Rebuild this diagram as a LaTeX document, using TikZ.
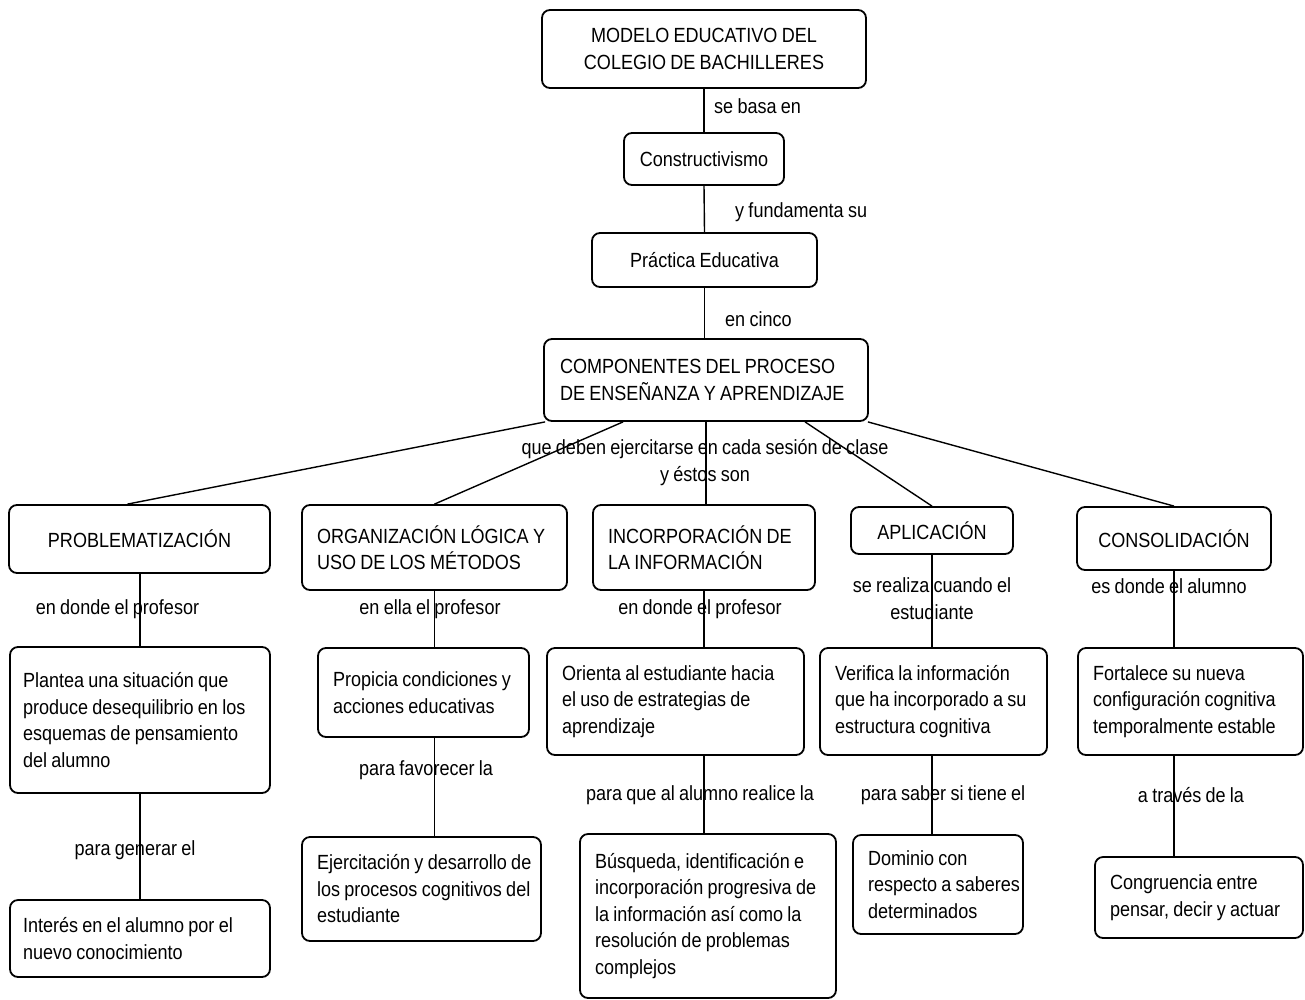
\documentclass[tikz,border=0pt]{standalone}
\usepackage{fontspec}
\setmainfont{Liberation Sans}[FakeStretch=0.88,WordSpace=0.85]
\begin{document}
\begin{tikzpicture}[x=1pt,y=-1pt,
  txt/.style={font=\fontsize{20.5}{26.5}\selectfont},
  box/.style={txt,draw,rounded corners=8pt,line width=1.8pt,inner xsep=15pt,inner ysep=0pt,align=flush left},
  cbox/.style={box,align=flush center},
  lbl/.style={txt,inner sep=0pt,align=flush center},
  conn/.style={line width=1.4pt}]
\useasboundingbox (0,0) rectangle (1305,999);
% top chain
\node[cbox,text width=294pt,minimum height=78pt] (m) at (704,49) {MODELO EDUCATIVO DEL\\COLEGIO DE BACHILLERES};
\node[cbox,text width=130pt,minimum height=52pt] (c) at (704,159) {Constructivismo};
\node[cbox,text width=195pt,minimum height=54pt] (p) at (704.5,260) {Práctica Educativa};
\node[box,inner xsep=16pt,text width=292pt,minimum height=82pt] (k) at (706,380) {COMPONENTES DEL PROCESO\\DE ENSEÑANZA Y APRENDIZAJE};
% row 2
\node[cbox,text width=231pt,minimum height=68pt] (r1) at (139.5,539) {PROBLEMATIZACIÓN};
\node[box,text width=235pt,minimum height=85pt] (r2) at (434.5,547.5) {ORGANIZACIÓN LÓGICA Y\\USO DE LOS MÉTODOS};
\node[box,text width=192pt,minimum height=85pt] (r3) at (704,547.5) {INCORPORACIÓN DE\\LA INFORMACIÓN};
\node[cbox,text width=132pt,minimum height=47pt] (r4) at (932,530.5) {APLICACIÓN};
\node[cbox,text width=164pt,minimum height=63pt] (r5) at (1174,538.5) {CONSOLIDACIÓN};
% row 3
\node[box,inner xsep=13pt,text width=234pt,minimum height=146pt] (s1) at (140,720) {\mbox{Plantea una situación que}\\\mbox{produce desequilibrio en los}\\\mbox{esquemas de pensamiento}\\del alumno};
\node[box,text width=181pt,minimum height=89pt] (s2) at (423.5,692.5) {\mbox{Propicia condiciones y}\\\mbox{acciones educativas}};
\node[box,text width=227pt,minimum height=107pt] (s3) at (675.5,701.5) {\mbox{Orienta al estudiante hacia}\\\mbox{el uso de estrategias de}\\aprendizaje};
\node[box,text width=197pt,minimum height=107pt] (s4) at (933.5,701.5) {\mbox{Verifica la información}\\\mbox{que ha incorporado a su}\\\mbox{estructura cognitiva}};
\node[box,text width=195pt,minimum height=107pt] (s5) at (1190.5,701.5) {\mbox{Fortalece su nueva}\\\mbox{configuración cognitiva}\\\mbox{temporalmente estable}};
% row 4
\node[box,inner xsep=13pt,text width=234pt,minimum height=77pt] (t1) at (140,938.5) {\mbox{Interés en el alumno por el}\\\mbox{nuevo conocimiento}};
\node[box,text width=209pt,minimum height=104pt] (t2) at (421.5,889) {\mbox{Ejercitación y desarrollo de}\\\mbox{los procesos cognitivos del}\\estudiante};
\node[box,text width=226pt,minimum height=164pt] (t3) at (708,916) {\mbox{Búsqueda, identificación e}\\\mbox{incorporación progresiva de}\\\mbox{la información así como la}\\\mbox{resolución de problemas}\\complejos};
\node[box,text width=140pt,minimum height=99pt] (t4) at (938,884.5) {\mbox{Dominio con}\\\mbox{respecto a saberes}\\determinados};
\node[box,text width=178pt,minimum height=81pt] (t5) at (1199,897.5) {\mbox{Congruencia entre}\\\mbox{pensar, decir y actuar}};
% connectors
\begin{scope}[conn]
\draw (m.south) -- (c.north);
\draw (c.south) -- (p.north);
\draw (p.south) -- (p.south |- k.north);
\draw ([xshift=2pt]k.south west) -- ([xshift=-12pt]r1.north);
\draw ([xshift=-83pt]k.south) -- (r2.north);
\draw (k.south) -- (k.south |- r3.north);
\draw ([xshift=99pt]k.south) -- (r4.north);
\draw ([xshift=-1pt]k.south east) -- (r5.north);
\draw (r1.south -| s1.north) -- (s1.north);
\draw (s1.south) -- (t1.north);
\draw (r2.south) -- (r2.south |- s2.north);
\draw (r2.south |- s2.south) -- (r2.south |- t2.north);
\draw (r3.south) -- (r3.south |- s3.north);
\draw (r3.south |- s3.south) -- (r3.south |- t3.north);
\draw (r4.south) -- (r4.south |- s4.north);
\draw (r4.south |- s4.south) -- (r4.south |- t4.north);
\draw (r5.south) -- (r5.south |- s5.north);
\draw (r5.south |- s5.south) -- (r5.south |- t5.north);
\end{scope}
% labels
\node[lbl,anchor=west] (l1) at (714,106) {se basa en};
\node[lbl,anchor=west] (l2) at (735,212) {y fundamenta su};
\node[lbl,anchor=west] (l3) at (725,319) {en cinco};
\node[lbl] (l4) at (705,462.5) {que deben ejercitarse en cada sesión de clase\\y éstos son};
\node[lbl] (l5) at (117.5,609) {en donde el profesor};
\node[lbl] (l6) at (430,609) {en ella el profesor};
\node[lbl] (l7) at (700,609) {en donde el profesor};
\node[lbl] (l8) at (932,598.5) {se realiza cuando el\\estudiante};
\node[lbl] (l9) at (1169,586) {es donde el alumno};
\node[lbl] (l10) at (135,850) {para generar el};
\node[lbl] (l11) at (426,770) {para favorecer la};
\node[lbl] (l12) at (700,795) {para que al alumno realice la};
\node[lbl] (l13) at (943,795) {para saber si tiene el};
\node[lbl] (l14) at (1191,795) {a través de la};
\end{tikzpicture}
\end{document}
